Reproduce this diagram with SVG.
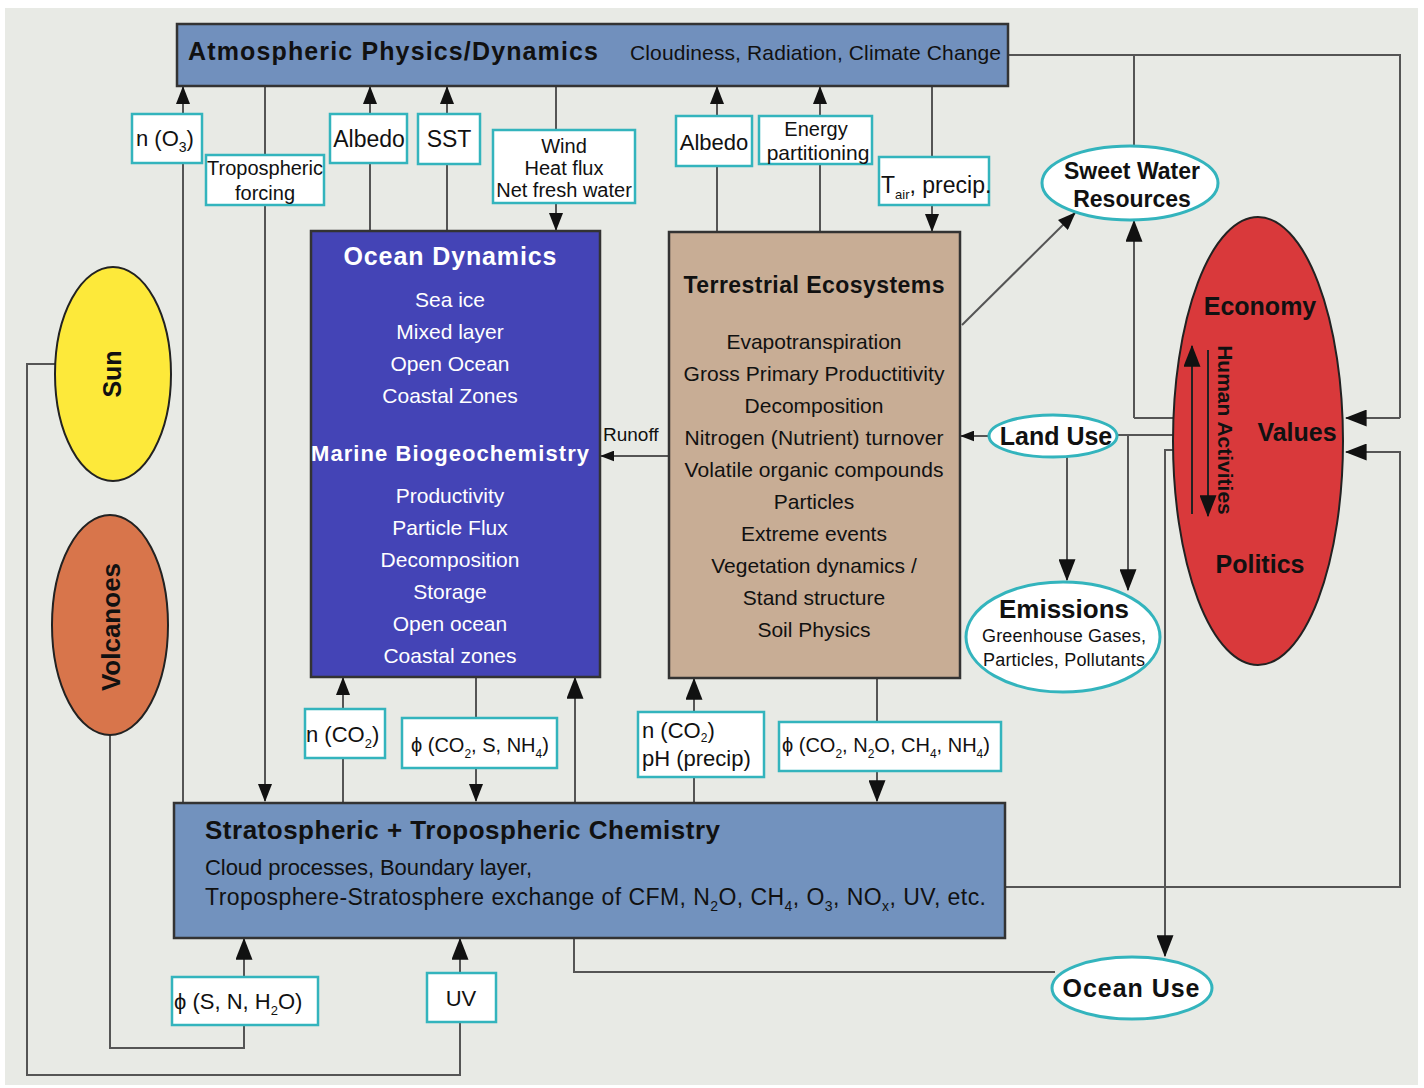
<svg xmlns="http://www.w3.org/2000/svg" width="1424" height="1088" viewBox="0 0 1424 1088">
<style>
text{font-family:"Liberation Sans",Arial,sans-serif;fill:#111}
.b{font-weight:bold}
.w{fill:#fff}
.lbl{fill:#fff;stroke:#33b4bd;stroke-width:2.5}
.oval{fill:#fff;stroke:#33b4bd;stroke-width:3}
.ln{fill:none;stroke:#555;stroke-width:2}
.ar{fill:none;stroke:#555;stroke-width:2;marker-end:url(#ah)}
.box{stroke:#333;stroke-width:2.5}
.m{text-anchor:middle}
</style>
<defs>
<marker id="ah" viewBox="0 0 18 14" refX="17" refY="7" markerWidth="18" markerHeight="14" markerUnits="userSpaceOnUse" orient="auto">
<path d="M0,0 L18,7 L0,14 z" fill="#111"/>
</marker>
<marker id="ahs" viewBox="0 0 18 14" refX="17" refY="7" markerWidth="14" markerHeight="11" markerUnits="userSpaceOnUse" orient="auto">
<path d="M0,0 L18,7 L0,14 z" fill="#111"/>
</marker>
<marker id="ahb" viewBox="0 0 18 14" refX="17" refY="7" markerWidth="22" markerHeight="17" markerUnits="userSpaceOnUse" orient="auto">
<path d="M0,0 L18,7 L0,14 z" fill="#111"/>
</marker>
</defs>
<rect x="0" y="0" width="1424" height="1088" fill="#fff"/>
<rect x="5" y="8" width="1413" height="1077" fill="#e8eae5"/>

<g id="connectors">
<path class="ar" d="M183,802 V87"/>
<path class="ar" d="M265,87 V801"/>
<path class="ar" d="M370,231 V87"/>
<path class="ar" d="M447,231 V87"/>
<path class="ar" d="M556,87 V230"/>
<path class="ar" d="M717,232 V87"/>
<path class="ar" d="M820,232 V87"/>
<path class="ar" d="M932,87 V231"/>
<path class="ln" d="M1008,55 H1400 V418"/>
<path class="ar" style="marker-end:url(#ahb)" d="M1400,418 H1346"/>
<path class="ln" d="M1134,55 V146"/>
<path class="ar" d="M962,325 L1075,213"/>
<path class="ln" d="M1174,418 H1134"/>
<path class="ar" style="marker-end:url(#ahb)" d="M1134,418 V221"/>
<path class="ar" style="marker-end:url(#ahb)" d="M1005,887 H1400 V452 H1346"/>
<path class="ln" d="M1174,435 H1117"/>
<path class="ar" style="marker-end:url(#ahs)" d="M988,436 H961"/>
<path class="ar" style="marker-end:url(#ahb)" d="M1128,435 V590"/>
<path class="ar" style="marker-end:url(#ahb)" d="M1067,457 V580"/>
<path class="ar" style="marker-end:url(#ahb)" d="M1174,450 H1165 V956"/>
<path class="ar" style="marker-end:url(#ahs)" d="M669,456 H601"/>
<path class="ar" d="M343,802 V678"/>
<path class="ar" d="M476,678 V801"/>
<path class="ar" style="marker-end:url(#ahb)" d="M575,802 V678"/>
<path class="ar" style="marker-end:url(#ahb)" d="M694,802 V679"/>
<path class="ar" style="marker-end:url(#ahb)" d="M877,679 V801"/>
<path class="ar" style="marker-end:url(#ahb)" d="M244,1025 V939"/>
<path class="ar" style="marker-end:url(#ahb)" d="M460,1022 V939"/>
<path class="ln" d="M574,938 V972 H1055"/>
<path class="ln" d="M57,364 H27 V1075 H460 V1022"/>
<path class="ln" d="M110,735 V1048 H244 V1025"/>
</g>

<g id="atmosphere">
<rect class="box" x="177" y="24" width="831" height="62" fill="#7190bd"/>
<text class="b" x="188" y="60" font-size="25" textLength="410">Atmospheric  Physics/Dynamics</text>
<text x="630" y="60" font-size="21" textLength="371">Cloudiness, Radiation, Climate Change</text>
</g>

<g id="label-nO3"><rect class="lbl" x="132" y="114" width="70" height="49"/><text x="136" y="146" font-size="22">n (O<tspan font-size="14" dy="6">3</tspan><tspan dy="-6">)</tspan></text></g>
<g id="label-tropforcing"><rect class="lbl" x="206" y="155" width="118" height="50"/><text class="m" x="265" y="175" font-size="20">Tropospheric</text><text class="m" x="265" y="200" font-size="20">forcing</text></g>
<g id="label-albedo1"><rect class="lbl" x="330" y="114" width="77" height="49"/><text class="m" x="369" y="147" font-size="23">Albedo</text></g>
<g id="label-sst"><rect class="lbl" x="418" y="114" width="62" height="50"/><text class="m" x="449" y="147" font-size="23">SST</text></g>
<g id="label-wind"><rect class="lbl" x="493" y="130" width="142" height="73"/><text class="m" x="564" y="153" font-size="20">Wind</text><text class="m" x="564" y="175" font-size="20">Heat flux</text><text class="m" x="564" y="197" font-size="20">Net fresh water</text></g>
<g id="label-albedo2"><rect class="lbl" x="676" y="116" width="76" height="50"/><text class="m" x="714" y="150" font-size="22">Albedo</text></g>
<g id="label-energy"><rect class="lbl" x="759" y="116" width="113" height="48"/><text class="m" x="816" y="136" font-size="20">Energy</text><text class="m" x="818" y="160" font-size="21">partitioning</text></g>
<g id="label-tair"><rect class="lbl" x="879" y="157" width="110" height="48"/><text x="881" y="193" font-size="23">T<tspan font-size="13" dy="6">air</tspan><tspan dy="-6">, precip.</tspan></text></g>

<g id="ocean">
<rect class="box" x="311" y="231" width="289" height="446" fill="#4444b6"/>
<text class="b w m" x="450" y="265" font-size="25" textLength="213">Ocean Dynamics</text>
<text class="w m" x="450" y="307" font-size="21">Sea ice</text>
<text class="w m" x="450" y="339" font-size="21">Mixed layer</text>
<text class="w m" x="450" y="371" font-size="21">Open Ocean</text>
<text class="w m" x="450" y="403" font-size="21">Coastal Zones</text>
<text class="b w m" x="450" y="461" font-size="22" textLength="278">Marine Biogeochemistry</text>
<text class="w m" x="450" y="503" font-size="21">Productivity</text>
<text class="w m" x="450" y="535" font-size="21">Particle Flux</text>
<text class="w m" x="450" y="567" font-size="21">Decomposition</text>
<text class="w m" x="450" y="599" font-size="21">Storage</text>
<text class="w m" x="450" y="631" font-size="21">Open ocean</text>
<text class="w m" x="450" y="663" font-size="21">Coastal zones</text>
</g>
<text id="label-runoff" x="603" y="441" font-size="19">Runoff</text>

<g id="terrestrial">
<rect class="box" x="669" y="232" width="291" height="446" fill="#c8ad95"/>
<text class="b m" x="814" y="293" font-size="23" textLength="261">Terrestrial Ecosystems</text>
<text class="m" x="814" y="349" font-size="21">Evapotranspiration</text>
<text class="m" x="814" y="381" font-size="21" textLength="261">Gross Primary Productitivity</text>
<text class="m" x="814" y="413" font-size="21">Decomposition</text>
<text class="m" x="814" y="445" font-size="21" textLength="259">Nitrogen (Nutrient) turnover</text>
<text class="m" x="814" y="477" font-size="21" textLength="259">Volatile organic compounds</text>
<text class="m" x="814" y="509" font-size="21">Particles</text>
<text class="m" x="814" y="541" font-size="21">Extreme events</text>
<text class="m" x="814" y="573" font-size="21">Vegetation dynamics /</text>
<text class="m" x="814" y="605" font-size="21">Stand structure</text>
<text class="m" x="814" y="637" font-size="21">Soil Physics</text>
</g>

<g id="label-nCO2a"><rect class="lbl" x="305" y="709" width="80" height="49"/><text x="306" y="742" font-size="22">n (CO<tspan font-size="13" dy="6">2</tspan><tspan dy="-6">)</tspan></text></g>
<g id="label-phi1"><rect class="lbl" x="402" y="718" width="155" height="50"/><text x="411" y="752" font-size="20">ϕ (CO<tspan font-size="12" dy="6">2</tspan><tspan dy="-6">, S, NH</tspan><tspan font-size="12" dy="6">4</tspan><tspan dy="-6">)</tspan></text></g>
<g id="label-nCO2b"><rect class="lbl" x="638" y="712" width="126" height="65"/><text x="642" y="738" font-size="22">n (CO<tspan font-size="12" dy="4">2</tspan><tspan dy="-4">)</tspan></text><text x="642" y="766" font-size="22">pH (precip)</text></g>
<g id="label-phi2"><rect class="lbl" x="779" y="722" width="222" height="49"/><text x="782" y="752" font-size="20">ϕ (CO<tspan font-size="12" dy="6">2</tspan><tspan dy="-6">, N</tspan><tspan font-size="12" dy="6">2</tspan><tspan dy="-6">O, CH</tspan><tspan font-size="12" dy="6">4</tspan><tspan dy="-6">, NH</tspan><tspan font-size="12" dy="6">4</tspan><tspan dy="-6">)</tspan></text></g>

<g id="stratosphere">
<rect class="box" x="174" y="803" width="831" height="135" fill="#7292be"/>
<text class="b" x="205" y="839" font-size="26" textLength="515">Stratospheric  + Tropospheric Chemistry</text>
<text x="205" y="875" font-size="22" textLength="327">Cloud processes, Boundary layer,</text>
<text x="205" y="905" font-size="23" textLength="781">Troposphere-Stratosphere exchange of CFM, N<tspan font-size="14" dy="6">2</tspan><tspan dy="-6">O, CH</tspan><tspan font-size="14" dy="6">4</tspan><tspan dy="-6">, O</tspan><tspan font-size="14" dy="6">3</tspan><tspan dy="-6">, NO</tspan><tspan font-size="14" dy="6">x</tspan><tspan dy="-6">, UV, etc.</tspan></text>
</g>

<g id="label-phi3"><rect class="lbl" x="172" y="977" width="146" height="48"/><text x="174" y="1009" font-size="22">ϕ (S, N, H<tspan font-size="13" dy="6">2</tspan><tspan dy="-6">O)</tspan></text></g>
<g id="label-uv"><rect class="lbl" x="427" y="973" width="69" height="49"/><text class="m" x="461" y="1006" font-size="22">UV</text></g>

<g id="sun">
<ellipse cx="113" cy="374" rx="58" ry="107" fill="#fde93a" stroke="#222" stroke-width="2"/>
<text class="b m" font-size="25" transform="translate(121,374) rotate(-90)">Sun</text>
</g>
<g id="volcanoes">
<ellipse cx="110" cy="625" rx="58" ry="110" fill="#d8754b" stroke="#222" stroke-width="2"/>
<text class="b m" font-size="26" transform="translate(120,627) rotate(-90)">Volcanoes</text>
</g>

<g id="sweetwater">
<ellipse class="oval" cx="1130" cy="183" rx="88" ry="37"/>
<text class="b m" x="1132" y="179" font-size="23">Sweet Water</text>
<text class="b m" x="1132" y="207" font-size="23">Resources</text>
</g>

<g id="economy">
<ellipse cx="1258" cy="441" rx="85" ry="224" fill="#d9393b" stroke="#222" stroke-width="2"/>
<text class="b m" x="1260" y="315" font-size="25">Economy</text>
<text class="b m" x="1297" y="441" font-size="25">Values</text>
<text class="b m" x="1260" y="573" font-size="25">Politics</text>
<text class="b m" font-size="21" transform="translate(1218,430) rotate(90)">Human Activities</text>
<path class="ar" style="stroke:#222;marker-end:url(#ahb)" d="M1192,514 V346"/>
<path class="ar" style="stroke:#222;marker-end:url(#ahb)" d="M1208,350 V516"/>
</g>

<g id="landuse">
<ellipse class="oval" cx="1053" cy="436" rx="64" ry="21"/>
<text class="b m" x="1056" y="445" font-size="25">Land Use</text>
</g>

<g id="emissions">
<ellipse class="oval" cx="1063" cy="637" rx="97" ry="55"/>
<text class="b m" x="1064" y="618" font-size="26">Emissions</text>
<text class="m" x="1064" y="642" font-size="18" textLength="164">Greenhouse Gases,</text>
<text class="m" x="1064" y="666" font-size="18" textLength="162">Particles, Pollutants</text>
</g>

<g id="oceanuse">
<ellipse class="oval" cx="1132" cy="988" rx="80" ry="31"/>
<text class="b m" x="1131" y="997" font-size="25" textLength="137">Ocean Use</text>
</g>
</svg>
